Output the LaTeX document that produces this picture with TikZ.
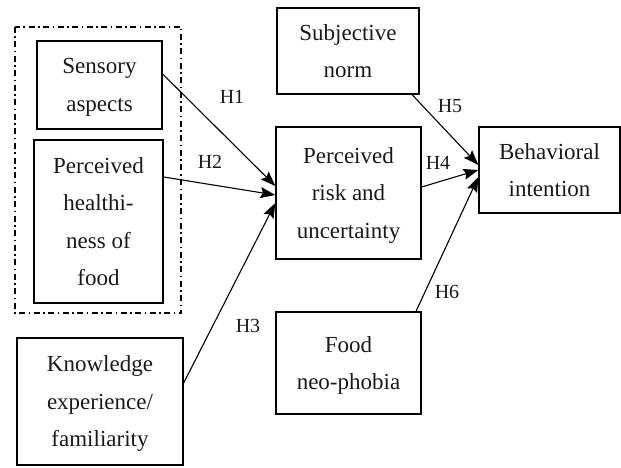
\documentclass[tikz,border=0pt]{standalone}
\usepackage{fontspec}
\setmainfont{Liberation Serif}
\usetikzlibrary{arrows.meta}
\begin{document}
\begin{tikzpicture}[x=1pt,y=-1pt,
  box/.style={draw, line width=1.3pt, align=center, inner sep=0pt,
    font=\fontsize{23}{37.5}\selectfont, text=black!90, text depth=-10pt},
  lab/.style={font=\fontsize{20}{24}\selectfont, text=black!90, inner sep=0pt},
  arr/.style={line width=1.1pt, -{Stealth[length=15pt,width=11pt,inset=2.5pt]}}]
\useasboundingbox (0,0) rectangle (621,468);
\draw[line width=1.2pt, dash pattern=on 6pt off 3.5pt on 1.5pt off 3.5pt] (15,27) rectangle (181,313);
\node[box, minimum width=125pt, minimum height=88pt] (sens) at (99.5,85) {Sensory\\aspects};
\node[box, minimum width=129pt, minimum height=163pt] (health) at (98.5,221.5) {Perceived\\healthi-\\ness of\\food};
\node[box, minimum width=166pt, minimum height=127pt] (know) at (100,401.5) {Knowledge\\experience/\\familiarity};
\node[box, minimum width=142pt, minimum height=86pt] (subj) at (348,51) {Subjective\\norm};
\node[box, minimum width=145pt, minimum height=132pt] (risk) at (348.5,193) {Perceived\\risk and\\uncertainty};
\node[box, minimum width=141pt, minimum height=86pt] (behav) at (549.5,170) {Behavioral\\intention};
\node[box, minimum width=145pt, minimum height=102pt] (food) at (348.5,363) {Food\\neo-phobia};
\draw[arr] ([yshift=11pt]sens.east) -- ([yshift=7pt]risk.west);
\draw[arr] ([yshift=44.5pt]health.east) -- ([yshift=-2pt]risk.west);
\draw[arr] ([yshift=18.5pt]know.east) -- ([yshift=-10pt]risk.west);
\draw[arr] ([yshift=6pt]risk.east) -- (behav.west);
\draw[arr] ([xshift=64pt]subj.south) -- ([yshift=5pt]behav.west);
\draw[arr] ([xshift=67.5pt]food.north) -- ([yshift=-7pt]behav.west);
\node[lab] (h1) at (232,97) {H1};
\node[lab] (h2) at (210,162) {H2};
\node[lab] (h3) at (248,326) {H3};
\node[lab] (h4) at (438,163) {H4};
\node[lab] (h5) at (450,106) {H5};
\node[lab] (h6) at (447,292) {H6};
\end{tikzpicture}
\end{document}
